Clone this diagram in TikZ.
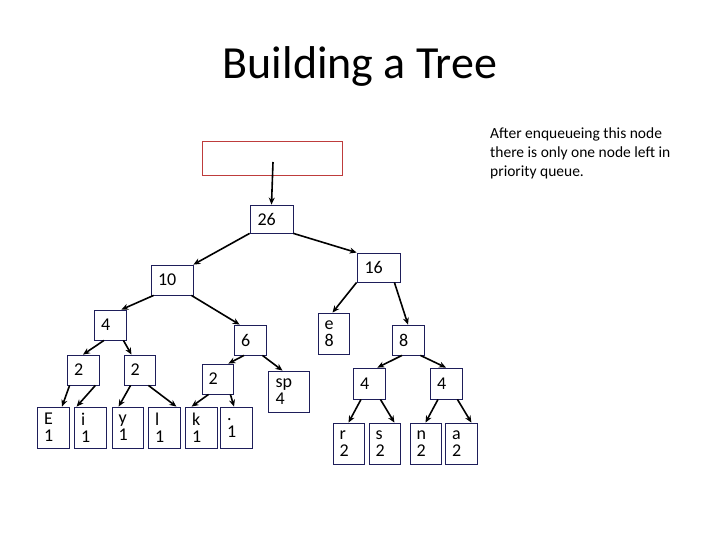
\documentclass[tikz,border=0pt]{standalone}
\usepackage{fontspec}
\setmainfont{Carlito}
\usetikzlibrary{arrows.meta}
\definecolor{navy}{RGB}{30,30,90}
\definecolor{boxred}{RGB}{190,60,60}
\tikzset{
  box/.style={draw=navy, line width=0.8pt, inner sep=0pt, align=left,
    font=\fontsize{18}{17}\selectfont},
  arrow/.style={line width=1.6pt, -{Stealth[length=7pt,width=6pt]}}
}

\begin{document}
\begin{tikzpicture}[x=1pt, y=-1pt]
  \useasboundingbox (0,0) rectangle (720,540);

  \node[font=\fontsize{46}{50}\selectfont] (title) at (360,66) {Building a Tree};
  \node[align=left, anchor=north west, inner sep=0pt,
        font=\fontsize{15.5}{19}\selectfont] (note) at (490,128)
        {After enqueueing this node\\there is only one node left in\\priority queue.};

  % the queue slot
  \node[draw=boxred, line width=0.8pt, minimum width=140pt, minimum height=34pt] (queue) at (272,158) {};
  \coordinate (qtop) at (273,162);

  % inner nodes
  \node[box, minimum width=43pt, minimum height=28pt, text width=28pt] (n26) at (271.5,219) {26};
  \node[box, minimum width=43pt, minimum height=29pt, text width=28pt] (n16) at (378.5,267.5) {16};
  \node[box, minimum width=42pt, minimum height=30pt, text width=28pt] (n10) at (172,280) {10};
  \node[box, minimum width=32pt, minimum height=30pt, text width=18pt] (n4) at (110,325) {4};
  \node[box, minimum width=32pt, minimum height=30pt, text width=18pt] (n6) at (250,340) {6};
  \node[box, minimum width=32pt, minimum height=30pt, text width=18pt] (n8) at (408,340) {8};
  \node[box, minimum width=32pt, minimum height=30pt, text width=18pt] (n2a) at (83,370) {2};
  \node[box, minimum width=31pt, minimum height=30pt, text width=18pt] (n2b) at (139.5,370) {2};
  \node[box, minimum width=31pt, minimum height=30pt, text width=18pt] (n2c) at (217.5,379) {2};
  \node[box, minimum width=32pt, minimum height=31pt, text width=18pt] (n4a) at (369,383.5) {4};
  \node[box, minimum width=32pt, minimum height=31pt, text width=18pt] (n4b) at (446,383.5) {4};

  % leaves
  \node[box, minimum width=31pt, minimum height=41pt, text width=18pt] (le) at (333.5,333.5) {e\\8};
  \node[box, minimum width=41pt, minimum height=41pt, text width=26pt] (lsp) at (288.5,391.5) {sp\\4};
  \node[box, minimum width=32pt, minimum height=41pt, text width=18pt] (lE) at (53,427.5) {E\\1};
  \node[box, minimum width=32pt, minimum height=41pt, text width=18pt] (li) at (90,427.5) {i\\1};
  \node[box, minimum width=31pt, minimum height=41pt, text width=18pt] (ly) at (127.5,427.5) {y\\1};
  \node[box, minimum width=32pt, minimum height=41pt, text width=18pt] (ll) at (164,427.5) {l\\1};
  \node[box, minimum width=32pt, minimum height=41pt, text width=18pt] (lk) at (201,427.5) {k\\1};
  \node[box, minimum width=32pt, minimum height=41pt, text width=18pt] (ldot) at (236,427.5) {.\\1};
  \node[box, minimum width=31pt, minimum height=41pt, text width=18pt] (lr) at (348.5,443.5) {r\\2};
  \node[box, minimum width=31pt, minimum height=41pt, text width=18pt] (ls) at (384.5,443.5) {s\\2};
  \node[box, minimum width=31pt, minimum height=41pt, text width=18pt] (ln) at (425.5,443.5) {n\\2};
  \node[box, minimum width=32pt, minimum height=41pt, text width=18pt] (la) at (461,443.5) {a\\2};

  \draw[arrow] (qtop) -- (n26.north);

  \draw[arrow] (n26.south west) -- (n10.north east);
  \draw[arrow] (n26.south east) -- (n16.north west);
  \draw[arrow] (n16.south west) -- ([xshift=-1pt]le.north);
  \draw[arrow] ([xshift=-6pt]n16.south east) -- (n8.north);
  \draw[arrow] ([xshift=3pt]n10.south west) -- ([xshift=-5pt]n4.north east);
  \draw[arrow] ([xshift=-2pt]n10.south east) -- ([xshift=6pt]n6.north west);
  \draw[arrow] ([xshift=-6pt]n4.south) -- (n2a.north);
  \draw[arrow] ([xshift=-3pt]n4.south east) -- ([xshift=-8pt]n2b.north);
  \draw[arrow] ([xshift=-6pt]n6.south) -- ([xshift=-5pt]n2c.north east);
  \draw[arrow] ([xshift=-4pt]n6.south east) -- ([xshift=-6pt]lsp.north);
  \draw[arrow] ([xshift=3pt]n2a.south west) -- ([xshift=9pt]lE.north);
  \draw[arrow] ([xshift=-4pt]n2a.south east) -- ([xshift=3pt]li.north west);
  \draw[arrow] ([xshift=7pt]n2b.south west) -- ([xshift=7pt]ly.north west);
  \draw[arrow] ([xshift=-7pt]n2b.south east) -- ([xshift=-4pt]ll.north east);
  \draw[arrow] ([xshift=7pt]n2c.south west) -- ([xshift=7pt]lk.north west);
  \draw[arrow] ([xshift=-3pt]n2c.south east) -- ([xshift=-2pt]ldot.north);
  \draw[arrow] ([xshift=-6pt]n8.south) -- ([xshift=-8pt]n4a.north east);
  \draw[arrow] ([xshift=-4pt]n8.south east) -- (n4b.north);
  \draw[arrow] ([xshift=-8pt]n4a.south) -- (lr.north);
  \draw[arrow] ([xshift=-5pt]n4a.south east) -- ([xshift=-6pt]ls.north east);
  \draw[arrow] ([xshift=-8pt]n4b.south) -- (ln.north);
  \draw[arrow] ([xshift=-5pt]n4b.south east) -- ([xshift=-6pt]la.north east);
\end{tikzpicture}
\end{document}
